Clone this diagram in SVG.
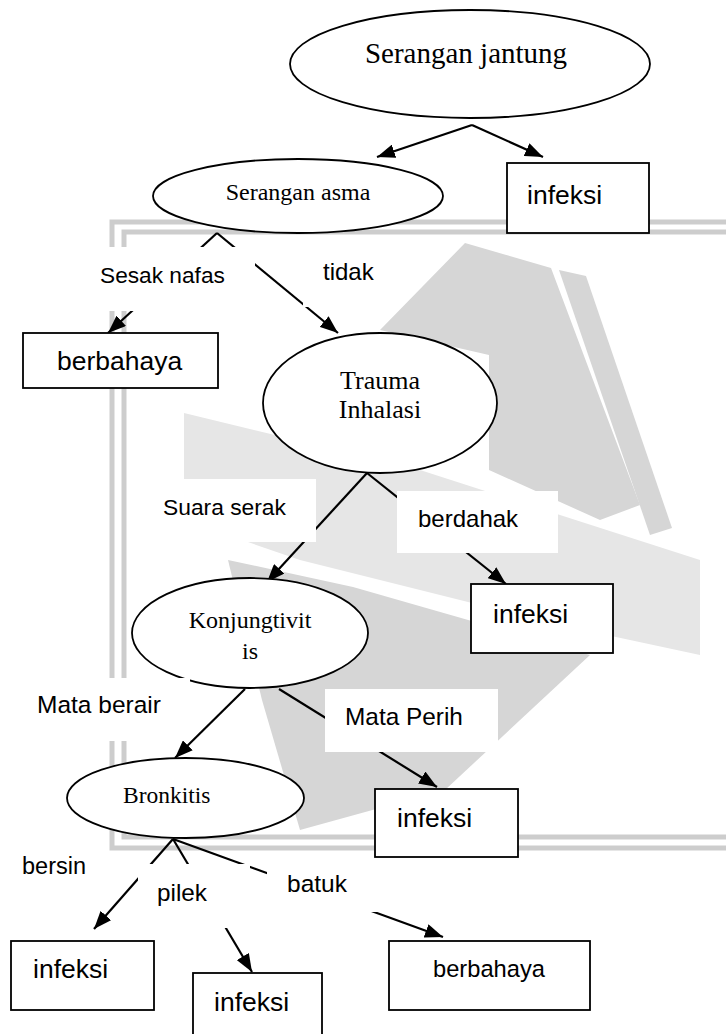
<svg xmlns="http://www.w3.org/2000/svg" width="726" height="1034" viewBox="0 0 726 1034">
<style>
.ser{font-family:"Liberation Serif","Times New Roman",serif;fill:#000}
.san{font-family:"Liberation Sans",Arial,sans-serif;fill:#000}
.node{fill:#fff;stroke:#000;stroke-width:1.8}
.lab{fill:#fff;stroke:none}
.conn line{stroke:#000;stroke-width:2.2;marker-end:url(#ah)}
.wm{fill:#d6d6d6}
.wml{fill:#e6e6e6}
.frame{fill:none;stroke:#cdcdcd;stroke-width:5}
</style>
<defs>
<marker id="ah" markerUnits="userSpaceOnUse" markerWidth="18" markerHeight="14" refX="18" refY="7" orient="auto">
<path d="M0,0 L18,7 L0,14 z" fill="#000"/>
</marker>
</defs>
<rect width="726" height="1034" fill="#fff"/>
<g id="watermark">
<polygon class="wml" points="184,413 420,470 700,560 700,655 560,625 300,560 184,520"/>
<polygon class="wm" points="465,243 551,268 640,505 600,520 489,470 489,355 380,330"/>
<polygon class="wm" points="559,270 586,276 672,528 650,535"/>
<polygon class="wm" points="228,560 353,587 590,655 445,790 300,830 262,700"/>
<line x1="592" y1="660" x2="440" y2="800" stroke="#fff" stroke-width="4"/>
<path class="frame" d="M726,222 H112 V848 H726"/>
<path class="frame" d="M726,232 H124 V837 H726"/>
</g>
<g id="connectors" class="conn">
<line x1="472" y1="125" x2="377" y2="157"/>
<line x1="472" y1="125" x2="543" y2="157"/>
<line x1="217" y1="233" x2="108" y2="333"/>
<line x1="217" y1="233" x2="338" y2="333"/>
<line x1="367" y1="473" x2="267" y2="582"/>
<line x1="367" y1="473" x2="506" y2="584"/>
<line x1="245" y1="689" x2="175" y2="758"/>
<line x1="279" y1="689" x2="437" y2="787"/>
<line x1="173" y1="839" x2="94" y2="929"/>
<line x1="173" y1="839" x2="252" y2="972"/>
<line x1="173" y1="839" x2="443" y2="937"/>
</g>
<g id="n-serangan-jantung"><ellipse class="node" cx="470" cy="64" rx="180" ry="54"/><text class="ser" x="466" y="63" font-size="29" text-anchor="middle">Serangan jantung</text></g>
<g id="n-serangan-asma"><ellipse class="node" cx="298" cy="196" rx="145" ry="37"/><text class="ser" x="298" y="200" font-size="24" text-anchor="middle">Serangan asma</text></g>
<g id="n-infeksi-1"><rect class="node" x="507" y="163" width="142" height="70"/><text class="san" x="527" y="204" font-size="26.5">infeksi</text></g>
<g id="n-berbahaya-1"><rect class="node" x="23" y="333" width="195" height="55"/><text class="san" x="57" y="370" font-size="26.5">berbahaya</text></g>
<g id="n-trauma"><ellipse class="node" cx="380" cy="403" rx="117" ry="70"/><text class="ser" font-size="26" text-anchor="middle"><tspan x="380" y="389">Trauma</tspan><tspan x="380" y="418">Inhalasi</tspan></text></g>
<g id="n-infeksi-2"><rect class="node" x="471" y="584" width="142" height="69"/><text class="san" x="493" y="623" font-size="26.5">infeksi</text></g>
<g id="n-konjungtivitis"><ellipse class="node" cx="250" cy="633" rx="118" ry="55"/><text class="ser" font-size="24" text-anchor="middle"><tspan x="250" y="628">Konjungtivit</tspan><tspan x="250" y="659">is</tspan></text></g>
<g id="n-bronkitis"><ellipse class="node" cx="185.5" cy="798" rx="118.5" ry="40"/><text class="ser" x="123" y="803" font-size="23.5">Bronkitis</text></g>
<g id="n-infeksi-3"><rect class="node" x="375" y="789" width="143" height="68"/><text class="san" x="397" y="827" font-size="26.5">infeksi</text></g>
<g id="n-infeksi-4"><rect class="node" x="11" y="941" width="143" height="69"/><text class="san" x="33" y="978" font-size="26.5">infeksi</text></g>
<g id="n-infeksi-5"><rect class="node" x="193" y="973" width="129" height="75"/><text class="san" x="214" y="1011" font-size="26.5">infeksi</text></g>
<g id="n-berbahaya-2"><rect class="node" x="389" y="941" width="201" height="69"/><text class="san" x="433" y="977" font-size="23.7">berbahaya</text></g>
<g id="labels">
<g id="l-sesak"><rect class="lab" x="90" y="247" width="165" height="64"/><text class="san" x="100" y="283" font-size="22.7">Sesak nafas</text></g>
<g id="l-tidak"><rect class="lab" x="303" y="250" width="97" height="57"/><text class="san" x="323" y="280" font-size="24">tidak</text></g>
<g id="l-suara"><rect class="lab" x="150" y="479" width="166" height="63"/><text class="san" x="163" y="515" font-size="22.8">Suara serak</text></g>
<g id="l-berdahak"><rect class="lab" x="397" y="491" width="161" height="62"/><text class="san" x="418" y="527" font-size="24">berdahak</text></g>
<g id="l-mata-berair"><rect class="lab" x="25" y="678" width="165" height="63"/><text class="san" x="37" y="713" font-size="24.5">Mata berair</text></g>
<g id="l-mata-perih"><rect class="lab" x="325" y="689" width="173" height="63"/><text class="san" x="345" y="725" font-size="24.4">Mata Perih</text></g>
<g id="l-bersin"><rect class="lab" x="12" y="852" width="90" height="33"/><text class="san" x="22" y="874" font-size="23.5">bersin</text></g>
<g id="l-pilek"><rect class="lab" x="138" y="864" width="112" height="64"/><text class="san" x="157" y="901" font-size="24.3">pilek</text></g>
<g id="l-batuk"><rect class="lab" x="267" y="862" width="123" height="50"/><text class="san" x="287" y="892" font-size="24.5">batuk</text></g>
</g>
</svg>
